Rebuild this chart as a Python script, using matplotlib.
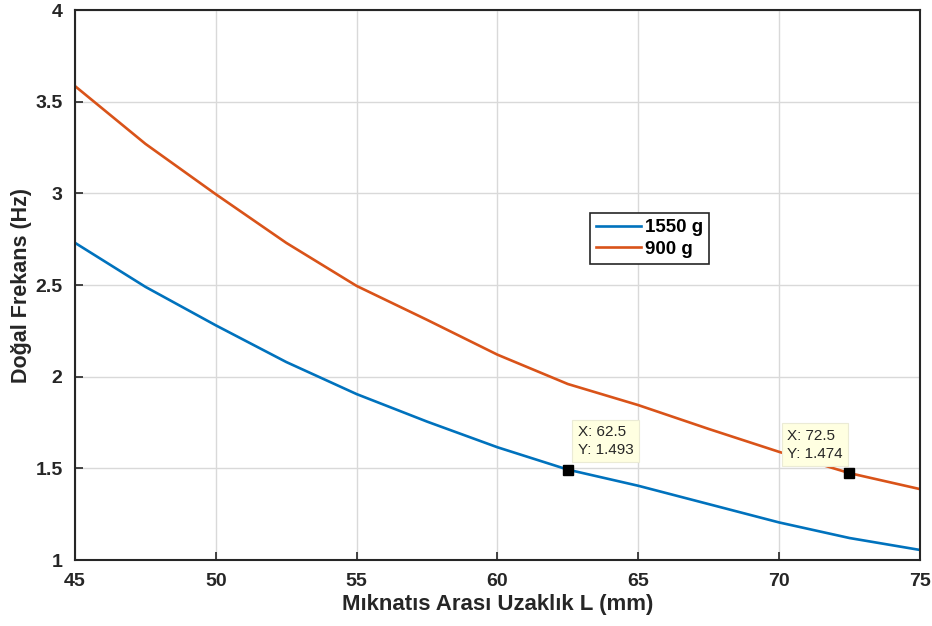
import matplotlib.pyplot as plt

plt.rcParams['font.family'] = ['Liberation Sans', 'DejaVu Sans']

# Mıknatıs arası uzaklık (mm)
L = [45, 47.5, 50, 52.5, 55, 57.5, 60, 62.5, 65, 67.5, 70, 72.5, 75]
# Doğal frekans (Hz)
f_1550 = [2.73, 2.49, 2.28, 2.08, 1.905, 1.755, 1.615, 1.493, 1.405, 1.305, 1.205, 1.12, 1.055]
f_900 = [3.585, 3.27, 2.995, 2.73, 2.495, 2.31, 2.12, 1.96, 1.845, 1.715, 1.59, 1.474, 1.387]

# data tips: x, y, side of the box
tips = [(62.5, 1.493, 'right'), (72.5, 1.474, 'left')]

fig = plt.figure(figsize=(9.32, 6.26), dpi=100)
ax = fig.add_axes([0.0805, 0.1054, 0.9065, 0.8786])

ax.plot(L, f_1550, color='#0072BD', lw=1.9, label='1550 g')
ax.plot(L, f_900, color='#D95319', lw=1.9, label='900 g')

ax.set_xlim(45, 75)
ax.set_ylim(1, 4)
ax.set_xticks(range(45, 76, 5))
ax.set_yticks([1, 1.5, 2, 2.5, 3, 3.5, 4])
ax.set_yticklabels(['1', '1.5', '2', '2.5', '3', '3.5', '4'])
ax.grid(True, color='#d9d9d9', lw=1)
ax.set_axisbelow(True)
ax.tick_params(direction='in', length=6, width=1.2, labelsize=14, colors='#262626')
ax.tick_params(axis='x', pad=9)
ax.tick_params(axis='y', pad=9)
for lbl in ax.get_xticklabels() + ax.get_yticklabels():
    lbl.set_fontweight('bold')
for s in ax.spines.values():
    s.set_linewidth(1.5)
    s.set_color('#262626')

ax.set_xlabel('Mıknatıs Arası Uzaklık L (mm)', fontsize=16, fontweight='bold', labelpad=3,
              color='#262626')
ax.set_ylabel('Doğal Frekans (Hz)', fontsize=15.5, fontweight='bold', labelpad=2,
              color='#262626')

leg = ax.legend(loc='upper left', bbox_to_anchor=(0.6234, 0.674), bbox_transform=fig.transFigure,
                fancybox=False, edgecolor='#262626', framealpha=1, handlelength=2.4,
                handletextpad=0.2, borderpad=0.3, labelspacing=0.25,
                prop={'weight': 'bold', 'size': 13.5})
leg.get_frame().set_linewidth(1.2)

for x, y, side in tips:
    ax.plot(x, y, 's', color='black', ms=7, zorder=5)
    dx = 7 if side == 'right' else -5
    ax.annotate(f'X: {x}\nY: {y}', xy=(x, y), xytext=(dx, 9), textcoords='offset points',
                fontsize=11, color='#262626', va='bottom', ha='left' if side == 'right' else 'right',
                multialignment='left', linespacing=1.35,
                bbox=dict(boxstyle='square,pad=0.35', fc='#ffffe1', ec='#ebebd5', lw=0.8),
                zorder=6)

fig.savefig('out.png', dpi=100)
